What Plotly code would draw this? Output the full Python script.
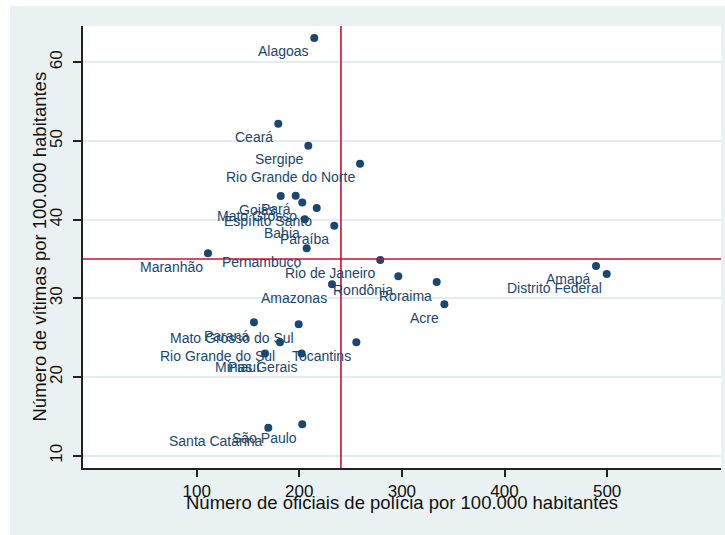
import plotly.graph_objects as go

# ---- data ----
states = [
    "Alagoas", "Ceará", "Sergipe", "Rio Grande do Norte",
    "Goiás", "Pará", "Mato Grosso", "Espírito Santo", "Bahia", "Paraíba",
    "Pernambuco", "Maranhão", "Rio de Janeiro", "Rondônia", "Roraima",
    "Amazonas", "Acre", "Paraná", "Mato Grosso do Sul", "Tocantins",
    "Rio Grande do Sul", "Piauí", "Minas Gerais", "Santa Catarina",
    "São Paulo", "Amapá", "Distrito Federal",
]
police = [
    214.6, 179.5, 208.8, 259.2,
    181.9, 196.5, 202.9, 217.0, 205.3, 234.1,
    207.2, 111.0, 278.9, 296.5, 333.9,
    231.9, 341.4, 155.8, 199.4, 255.6,
    181.2, 166.6, 202.3, 169.8,
    202.9, 489.2, 499.6,
]
victims = [
    63.1, 52.2, 49.4, 47.1,
    43.0, 43.05, 42.2, 41.5, 40.05, 39.24,
    36.36, 35.73, 34.88, 32.8, 32.08,
    31.79, 29.25, 26.96, 26.71, 24.42,
    24.42, 23.0, 23.0, 13.57,
    14.0, 34.12, 33.1,
]
mean_police = 240.6
mean_victims = 35.0

x_ticks = [100, 200, 300, 400, 500]
y_ticks = [10, 20, 30, 40, 50, 60]
x_title = "Número de oficiais de polícia por 100.000 habitantes"
y_title = "Número de vítimas por 100.000 habitantes"

# ---- styling ----
NAVY = "#1a476f"
RED = "#c8102e"
BG = "#e9f1f3"
GRID = "#e3ecef"
AXIS = "#222222"
TXT = "#111111"
FONT = "Liberation Sans, Arial, sans-serif"

W, H = 725, 535
ML, MR, MT, MB = 83, 4, 26, 67
PW, PH = W - ML - MR, H - MT - MB

fig = go.Figure()

fig.add_trace(go.Scatter(
    x=police, y=victims, mode="markers",
    marker=dict(color=NAVY, size=8, line=dict(width=0)),
    hoverinfo="text", text=states, showlegend=False,
))

# point labels (placed below-left of each marker)
for name, xv, yv in zip(states, police, victims):
    fig.add_annotation(
        x=xv, y=yv, xref="x", yref="y", text=name, showarrow=False,
        xanchor="right", yanchor="middle", xshift=-3, yshift=-13.5,
        font=dict(family=FONT, size=14, color=NAVY),
    )

# reference lines
fig.add_vline(x=mean_police, line=dict(color=RED, width=1.6))
fig.add_hline(y=mean_victims, line=dict(color=RED, width=1.6))

# axis titles as annotations for precise placement
fig.add_annotation(
    x=0.5, y=(H - MB - 502.4) / PH,
    xref="paper", yref="paper", text=x_title, showarrow=False,
    xanchor="center", yanchor="middle",
    font=dict(family=FONT, size=18.5, color=TXT),
)
fig.add_annotation(
    x=(38.5 - ML) / PW, y=0.5, xref="paper", yref="paper", text=y_title,
    showarrow=False, textangle=-90, xanchor="center", yanchor="middle",
    font=dict(family=FONT, size=18.5, color=TXT),
)

# white page strips outside the grey-blue graph region
fig.add_shape(type="rect", xref="paper", yref="paper",
              x0=-0.3, x1=(10 - ML) / PW, y0=-0.3, y1=1.3,
              fillcolor="white", line=dict(width=0), layer="below")
fig.add_shape(type="rect", xref="paper", yref="paper",
              x0=-0.3, x1=1.2, y0=(H - MB - 6) / PH, y1=1.3,
              fillcolor="white", line=dict(width=0), layer="below")

fig.update_layout(
    width=W, height=H, autosize=False,
    margin=dict(l=ML, r=MR, t=MT, b=MB, pad=0),
    paper_bgcolor=BG, plot_bgcolor="white",
    font=dict(family=FONT, color=TXT),
    showlegend=False,
)
fig.update_xaxes(
    range=[-10.8, 611.0], tickmode="array", tickvals=x_ticks,
    ticktext=[str(v) for v in x_ticks],
    showgrid=False, zeroline=False,
    showline=True, linecolor=AXIS, linewidth=1.5,
    ticks="outside", ticklen=7, tickwidth=1.5, tickcolor=AXIS,
    tickfont=dict(family=FONT, size=17, color=TXT),
)
fig.update_yaxes(
    range=[8.45, 64.61], tickmode="array", tickvals=y_ticks,
    ticktext=[str(v) for v in y_ticks],
    showgrid=True, gridcolor=GRID, gridwidth=1.5, zeroline=False,
    showline=True, linecolor=AXIS, linewidth=1.5,
    ticks="outside", ticklen=8, tickwidth=1.5, tickcolor=AXIS,
    tickangle=-90, ticklabelstandoff=4,
    tickfont=dict(family=FONT, size=17, color=TXT),
)

fig.write_html(
    "out.html",
    config={"displayModeBar": False},
    post_script="document.body.style.margin='0';document.body.style.overflow='hidden';",
)
